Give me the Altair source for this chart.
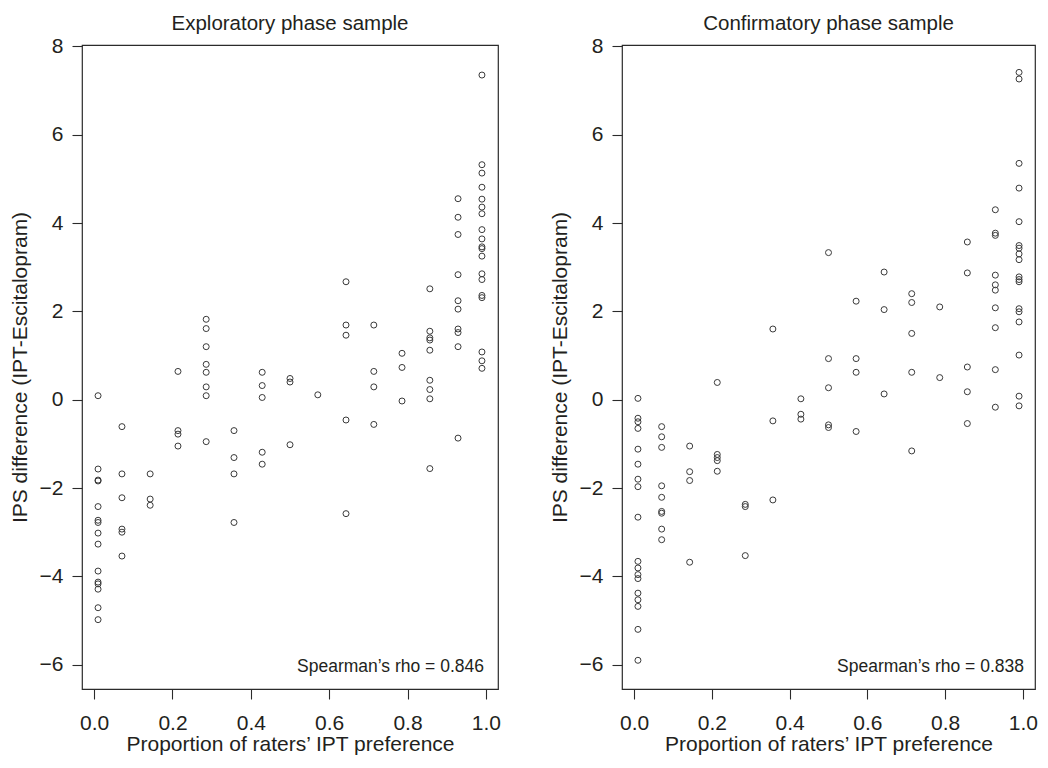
import altair as alt
import pandas as pd

# ---------------- data ----------------
X_LEVELS = [0.01, 0.071, 0.143, 0.214, 0.286, 0.357, 0.429, 0.5,
            0.571, 0.643, 0.714, 0.786, 0.857, 0.929, 0.99]

EXPLORATORY_Y = [
    [0.09, -1.57, -1.82, -1.84, -2.42, -2.73, -2.78, -3.02, -3.27, -3.88, -4.13, -4.17, -4.29, -4.71, -4.98],
    [-0.61, -1.68, -2.22, -2.93, -3.00, -3.54],
    [-1.68, -2.25, -2.39],
    [0.64, -0.70, -0.78, -1.05],
    [1.82, 1.61, 1.20, 0.80, 0.62, 0.29, 0.09, -0.95],
    [-0.70, -1.31, -1.68, -2.78],
    [0.62, 0.32, 0.05, -1.19, -1.46],
    [0.48, 0.40, -1.02],
    [0.11],
    [2.67, 1.69, 1.46, -0.46, -2.58],
    [1.69, 0.64, 0.29, -0.56],
    [1.05, 0.73, -0.03],
    [2.51, 1.55, 1.40, 1.35, 1.12, 0.44, 0.23, 0.02, -1.56],
    [4.55, 4.13, 3.74, 2.83, 2.24, 2.05, 1.60, 1.52, 1.20, -0.87],
    [7.35, 5.32, 5.13, 4.81, 4.54, 4.36, 4.21, 3.85, 3.64, 3.46, 3.42, 3.25, 2.85, 2.72, 2.36, 2.31, 1.08, 0.88, 0.71],
]

CONFIRMATORY_Y = [
    [0.03, -0.42, -0.50, -0.65, -1.12, -1.46, -1.80, -1.97, -2.66, -3.66, -3.81, -3.96, -4.05, -4.38, -4.53, -4.68, -5.20, -5.90],
    [-0.61, -0.84, -1.08, -1.95, -2.21, -2.53, -2.57, -2.93, -3.17],
    [-1.05, -1.63, -1.83, -3.68],
    [0.39, -1.24, -1.31, -1.38, -1.62],
    [-2.37, -2.42, -3.53],
    [1.60, -0.48, -2.27],
    [0.02, -0.33, -0.44],
    [3.33, 0.93, 0.27, -0.57, -0.63],
    [2.23, 0.93, 0.62, -0.72],
    [2.89, 2.04, 0.13],
    [2.40, 2.20, 1.50, 0.62, -1.16],
    [2.10, 0.50],
    [3.57, 2.87, 0.74, 0.18, -0.54],
    [4.30, 3.77, 3.72, 2.82, 2.60, 2.48, 2.08, 1.63, 0.68, -0.17],
    [7.41, 7.26, 5.35, 4.79, 4.03, 3.49, 3.43, 3.30, 3.17, 2.78, 2.72, 2.67, 2.06, 1.99, 1.76, 1.01, 0.08, -0.14],
]

PANEL_TITLES = ["Exploratory phase sample", "Confirmatory phase sample"]
RHO_LABELS = ["Spearman\u2019s rho = 0.846", "Spearman\u2019s rho = 0.838"]
X_TITLE = "Proportion of raters\u2019 IPT preference"
Y_TITLE = "IPS difference (IPT-Escitalopram)"
X_TICKS = [0.0, 0.2, 0.4, 0.6, 0.8, 1.0]
Y_TICKS = [-6, -4, -2, 0, 2, 4, 6, 8]

# ---------------- style ----------------
FONT = "Liberation Sans"
TEXT_COLOR = "#231f20"
LINE_COLOR = "#2b2b2b"
POINT_COLOR = "#3a3a3a"
HEIGHT = 644
X_DOMAIN = [-0.031, 1.031]
Y_DOMAIN = [-6.55, 8.03]


def to_frame(columns):
    rows = []
    for xv, ys in zip(X_LEVELS, columns):
        for yv in ys:
            rows.append({"x": xv, "y": yv})
    return pd.DataFrame(rows)


def panel(columns, title, rho, width, text_inset):
    df = to_frame(columns)
    pts = alt.Chart(df).mark_point(
        shape="circle", filled=False, size=36, strokeWidth=1,
        color=POINT_COLOR, opacity=1,
    ).encode(
        x=alt.X("x:Q",
                scale=alt.Scale(domain=X_DOMAIN, nice=False, zero=False),
                axis=alt.Axis(values=X_TICKS, format=".1f", title=X_TITLE,
                              labelPadding=13, titlePadding=0)),
        y=alt.Y("y:Q",
                scale=alt.Scale(domain=Y_DOMAIN, nice=False, zero=False),
                axis=alt.Axis(values=Y_TICKS, format="d", title=Y_TITLE,
                              labelPadding=9, titlePadding=9)),
    )
    txt = alt.Chart(pd.DataFrame({"label": [rho]})).mark_text(
        align="right", baseline="alphabetic", font=FONT, fontSize=17.5,
        color=TEXT_COLOR,
    ).encode(
        text="label:N",
        x=alt.value(width - text_inset),
        y=alt.value(HEIGHT - 17),
    )
    return alt.layer(pts, txt).properties(
        width=width, height=HEIGHT,
        title=alt.TitleParams(title, fontSize=20.5, font=FONT, fontWeight="normal",
                              color=TEXT_COLOR, baseline="alphabetic", offset=-15,
                              anchor="middle"),
    )


left = panel(EXPLORATORY_Y, PANEL_TITLES[0], RHO_LABELS[0], 416, 14)
right = panel(CONFIRMATORY_Y, PANEL_TITLES[1], RHO_LABELS[1], 413, 11)

chart = alt.hconcat(left, right, spacing=46).properties(
    padding={"left": 0, "top": 5, "right": 0, "bottom": 0},
    background="white",
).configure_view(
    stroke=LINE_COLOR, strokeWidth=1.2, fill="white"
).configure_axis(
    domain=False, grid=False,
    tickSize=10, tickColor=LINE_COLOR, tickWidth=1.1,
    labelFont=FONT, labelFontSize=21, labelColor=TEXT_COLOR,
    titleFont=FONT, titleFontSize=21, titleFontWeight="normal", titleColor=TEXT_COLOR,
)

chart.save("out.html", embed_options={"renderer": "svg", "actions": False})
